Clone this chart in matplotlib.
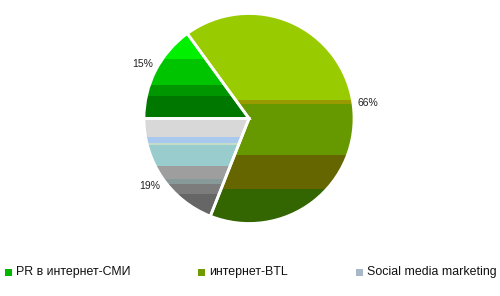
import matplotlib.pyplot as plt
from matplotlib.patches import Rectangle

# data
categories = ['PR в интернет-СМИ', 'интернет-BTL', 'Social media marketing']
shares = [15, 66, 19]
pct_labels = ['15%', '66%', '19%']

# horizontal stripes inside each slice: (top, bottom, colour), in pie radii from centre
stripes = [
    [(1.0, 0.565, '#00f000'), (0.565, 0.32, '#00c400'), (0.32, 0.21, '#009600'),
     (0.21, -1.0, '#007800')],
    [(1.0, 0.18, '#99cc00'), (0.18, 0.14, '#999900'), (0.14, -0.35, '#669900'),
     (-0.35, -0.67, '#666600'), (-0.67, -1.0, '#336600')],
    [(1.0, -0.176, '#d8d8d8'), (-0.176, -0.237, '#a8c8ee'), (-0.237, -0.256, '#c4dcc8'),
     (-0.256, -0.449, '#99cccc'), (-0.449, -0.575, '#9e9e9e'), (-0.575, -0.623, '#889999'),
     (-0.623, -0.72, '#7c7c7c'), (-0.72, -1.0, '#666666')],
]
legend_colors = ['#00b800', '#6f9a00', '#a8b8c8']

plt.rcParams['font.family'] = ['Liberation Sans', 'DejaVu Sans']

fig = plt.figure(figsize=(5.0, 2.96), dpi=100)
ax = fig.add_axes([0, 0, 1, 1])

cx, cy, R = 249, 177.5, 105

wedges, texts = ax.pie(shares, labels=pct_labels, center=(cx, cy), radius=R,
                       startangle=180, counterclock=False, explode=[0.02, 0.03, 0.02],
                       labeldistance=1.14, frame=True,
                       wedgeprops=dict(facecolor='none', edgecolor='white', linewidth=2),
                       textprops=dict(fontsize=7.5, color='#222222'))
for t in texts:
    t.set_horizontalalignment('center')
ax.set_xlim(0, 500)
ax.set_ylim(0, 296)
ax.axis('off')

for w, bands in zip(wedges, stripes):
    w.set_zorder(3)
    for top, bot, col in bands:
        r = Rectangle((cx - 1.3 * R, cy + bot * R), 2.6 * R, (top - bot) * R,
                      facecolor=col, edgecolor='none', zorder=2)
        ax.add_patch(r)
        r.set_clip_path(w)

# legend along the bottom
leg_x = [5, 198, 356]
for x, name, col in zip(leg_x, categories, legend_colors):
    ax.add_patch(Rectangle((x, 20.5), 7, 7, facecolor=col, edgecolor='none'))
    ax.text(x + 11, 24, name, fontsize=8.9, va='center', ha='left', color='#111111')

fig.savefig('out.png', dpi=100)
